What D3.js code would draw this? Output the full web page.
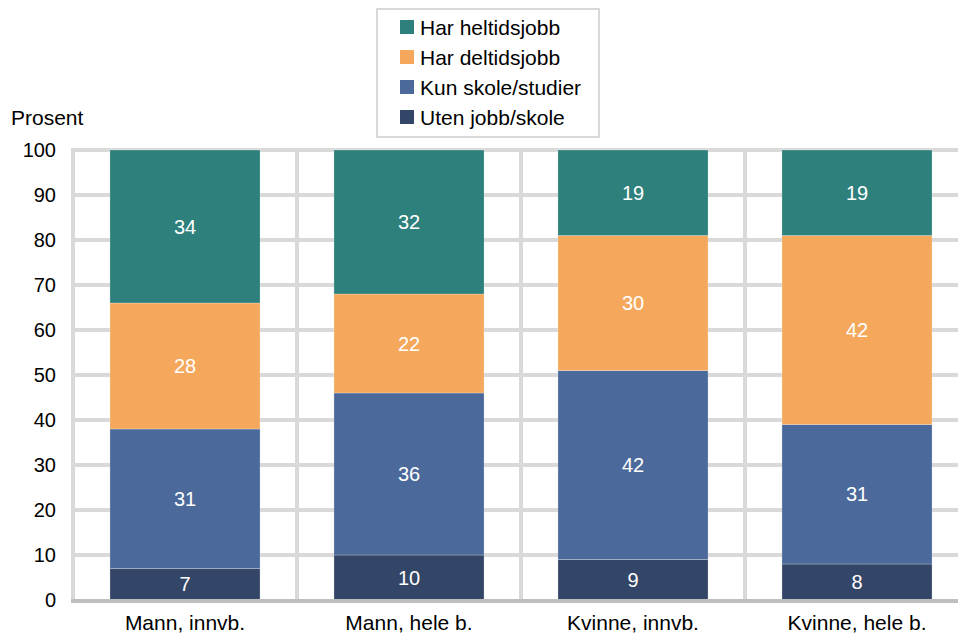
<!DOCTYPE html>
<html>
<head>
<meta charset="utf-8">
<script src="https://cdn.jsdelivr.net/npm/d3@7"></script>
<style>
  body { margin: 0; background: #fff; }
  svg { display: block; font-family: "Liberation Sans", Arial, sans-serif; }
</style>
</head>
<body>
<div id="viz"></div>
<script>
/***************** Data *********************/
var categories = ["Mann, innvb.", "Mann, hele b.", "Kvinne, innvb.", "Kvinne, hele b."];
var series = ["Uten jobb/skole", "Kun skole/studier", "Har deltidsjobb", "Har heltidsjobb"];
var utenJobb   = [7, 10, 9, 8];
var kunSkole   = [31, 36, 42, 31];
var deltid     = [28, 22, 30, 42];
var heltid     = [34, 32, 19, 19];
var yTicks = [0, 10, 20, 30, 40, 50, 60, 70, 80, 90, 100];

var colors = {
  "Uten jobb/skole": "#344667",
  "Kun skole/studier": "#4b6a9b",
  "Har deltidsjobb": "#f5a85c",
  "Har heltidsjobb": "#2d807b"
};

var grid_color = "#d9d9d9",
    base_color = "#bfbfbf",
    text_color = "#000";

var w = 958, h = 635;

var table = categories.map(function(c, i) {
  return {
    cat: c,
    "Uten jobb/skole": utenJobb[i],
    "Kun skole/studier": kunSkole[i],
    "Har deltidsjobb": deltid[i],
    "Har heltidsjobb": heltid[i]
  };
});

var svg = d3.select("#viz").append("svg")
    .attr("width", w)
    .attr("height", h);

/* Scales: plot runs past the right edge like the original */
var x = d3.scaleBand().domain(categories).range([73, 969]).paddingInner(0.33).paddingOuter(0.165);
var xOuter = d3.scaleBand().domain(categories).range([73, 969]);
var y = d3.scaleLinear().domain([0, 100]).range([600, 150]);

/* Gridlines */
svg.append("g").selectAll("line.hgrid")
    .data(yTicks.filter(function(t) { return t > 0; }))
  .enter().append("line")
    .attr("class", "hgrid")
    .attr("x1", 73).attr("x2", w)
    .attr("y1", function(d) { return y(d); })
    .attr("y2", function(d) { return y(d); })
    .attr("stroke", grid_color)
    .attr("stroke-width", 4);

var vlines = categories.map(function(c) { return xOuter(c); });
svg.append("g").selectAll("line.vgrid")
    .data(vlines)
  .enter().append("line")
    .attr("class", "vgrid")
    .attr("x1", function(d) { return d; })
    .attr("x2", function(d) { return d; })
    .attr("y1", y(100) - 2)
    .attr("y2", y(0))
    .attr("stroke", grid_color)
    .attr("stroke-width", 4);

/* Stacked bars */
var stack = d3.stack().keys(series)(table);

var layers = svg.append("g").selectAll("g.layer")
    .data(stack)
  .enter().append("g")
    .attr("class", "layer")
    .attr("fill", function(d) { return colors[d.key]; });

layers.selectAll("rect")
    .data(function(d) { return d; })
  .enter().append("rect")
    .attr("x", function(d) { return x(d.data.cat); })
    .attr("width", x.bandwidth())
    .attr("y", function(d) { return y(d[1]); })
    .attr("height", function(d) { return y(d[0]) - y(d[1]); })
    .attr("stroke", "rgba(255,255,255,0.35)")
    .attr("stroke-width", 0.7);

layers.selectAll("text")
    .data(function(d) { return d; })
  .enter().append("text")
    .attr("x", function(d) { return x(d.data.cat) + x.bandwidth() / 2; })
    .attr("y", function(d) { return (y(d[0]) + y(d[1])) / 2; })
    .attr("dy", "0.36em")
    .attr("text-anchor", "middle")
    .attr("fill", "#fff")
    .style("font-size", "20px")
    .text(function(d) { return d[1] - d[0]; });

/* Baseline */
svg.append("line")
    .attr("x1", 71).attr("x2", w)
    .attr("y1", y(0) + 1).attr("y2", y(0) + 1)
    .attr("stroke", base_color)
    .attr("stroke-width", 4);

/* Y axis labels */
svg.append("g").selectAll("text")
    .data(yTicks)
  .enter().append("text")
    .attr("x", 56)
    .attr("y", function(d) { return y(d); })
    .attr("dy", "0.36em")
    .attr("text-anchor", "end")
    .attr("fill", text_color)
    .style("font-size", "20px")
    .text(function(d) { return d; });

svg.append("text")
    .attr("x", 11)
    .attr("y", 117)
    .attr("dy", "0.36em")
    .attr("fill", text_color)
    .style("font-size", "21px")
    .text("Prosent");

/* X axis labels */
svg.append("g").selectAll("text")
    .data(categories)
  .enter().append("text")
    .attr("x", function(d) { return x(d) + x.bandwidth() / 2; })
    .attr("y", 622)
    .attr("dy", "0.36em")
    .attr("text-anchor", "middle")
    .attr("fill", text_color)
    .style("font-size", "21px")
    .text(function(d) { return d; });

/* Legend */
var legend = svg.append("g");
legend.append("rect")
    .attr("x", 377).attr("y", 9)
    .attr("width", 222).attr("height", 128)
    .attr("fill", "#fff")
    .attr("stroke", grid_color)
    .attr("stroke-width", 2);

var legendItems = series.slice().reverse();
var li = legend.selectAll("g.item")
    .data(legendItems)
  .enter().append("g")
    .attr("class", "item")
    .attr("transform", function(d, i) { return "translate(400," + (27 + i * 30) + ")"; });

li.append("rect")
    .attr("x", 0).attr("y", -7)
    .attr("width", 14).attr("height", 14)
    .attr("fill", function(d) { return colors[d]; });

li.append("text")
    .attr("x", 20)
    .attr("y", 0)
    .attr("dy", "0.36em")
    .attr("fill", text_color)
    .style("font-size", "21px")
    .text(function(d) { return d; });
</script>
</body>
</html>
